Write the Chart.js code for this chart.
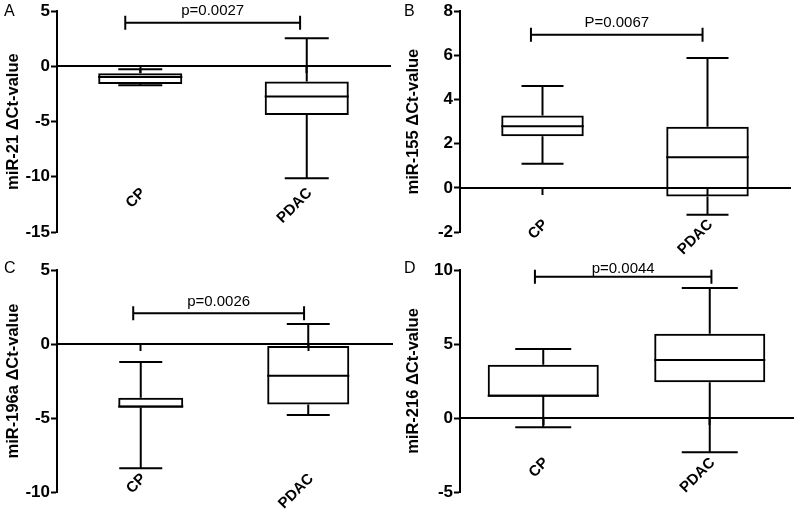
<!DOCTYPE html>
<html>
<head>
<meta charset="utf-8">
<script src="https://cdn.jsdelivr.net/npm/chart.js@4.4.1/dist/chart.umd.min.js"></script>
<style>
  html, body { margin: 0; padding: 0; background: #fff; }
  #wrap { position: relative; width: 800px; height: 515px; }
  .panel { position: absolute; }
</style>
</head>
<body>
<div id="wrap">
  <canvas class="panel" id="pA" width="400" height="257" style="left:0;top:0"></canvas>
  <canvas class="panel" id="pB" width="400" height="257" style="left:400px;top:0"></canvas>
  <canvas class="panel" id="pC" width="400" height="258" style="left:0;top:257px"></canvas>
  <canvas class="panel" id="pD" width="400" height="258" style="left:400px;top:257px"></canvas>
</div>
<script>
const groups = ['CP', 'PDAC'];

// A: miR-21 (min, q1, median, q3, max per group)
const mir21Min = [-1.7, -10.13];
const mir21Q1 = [-1.6, -4.4];
const mir21Median = [-0.95, -2.72];
const mir21Q3 = [-0.61, -1.37];
const mir21Max = [-0.25, 2.54];

// B: miR-155
const mir155Min = [1.09, -1.22];
const mir155Q1 = [2.34, -0.39];
const mir155Median = [2.79, 1.38];
const mir155Q3 = [3.28, 2.77];
const mir155Max = [4.61, 5.88];

// C: miR-196a
const mir196aMin = [-8.4, -4.8];
const mir196aQ1 = [-4.3, -4.08];
const mir196aMedian = [-4.22, -2.14];
const mir196aQ3 = [-3.63, -0.14];
const mir196aMax = [-1.22, 1.35];

// D: miR-216
const mir216Min = [-0.63, -2.32];
const mir216Q1 = [1.44, 2.41];
const mir216Median = [1.5, 3.92];
const mir216Q3 = [3.6, 5.7];
const mir216Max = [4.66, 8.78];

// y axis ticks
const ticksA = [-15, -10, -5, 0, 5];
const ticksB = [-2, 0, 2, 4, 6, 8];
const ticksC = [-10, -5, 0, 5];
const ticksD = [-5, 0, 5, 10];

// significance brackets: label, height, from/to (category index)
const pLabels = ['p=0.0027', 'P=0.0067', 'p=0.0026', 'p=0.0044'];
const pHeights = [3.95, 6.93, 2.07, 9.55];
const pFrom = [-0.09, -0.07, -0.045, -0.05];
const pTo = [0.96, 0.97, 0.975, 1.01];

const FONT = "'Liberation Sans', Arial, Helvetica, sans-serif";

// whiskers, medians, bracket and panel letter
const boxParts = {
  id: 'boxParts',
  afterDatasetsUpdate(chart, args, opts) {
    // the CP box in panel C is narrower and sits off its whiskers
    if (!opts.boxShift) return;
    chart.getDatasetMeta(0).data.forEach((bar, i) => {
      bar.x += opts.boxShift[i] || 0;
      if (opts.boxWidth && opts.boxWidth[i]) bar.width = opts.boxWidth[i];
    });
  },
  afterDatasetsDraw(chart, args, opts) {
    const { ctx } = chart;
    const x = chart.scales.x, y = chart.scales.y;
    const bars = chart.getDatasetMeta(0).data;
    ctx.save();
    ctx.strokeStyle = '#000';
    ctx.lineWidth = 2;
    bars.forEach((bar, i) => {
      const cx = x.getPixelForValue(i);
      const half = bar.width / 2;
      const cap = opts.capHalf;
      const yMin = y.getPixelForValue(opts.min[i]);
      const yQ1 = y.getPixelForValue(opts.q1[i]);
      const yMed = y.getPixelForValue(opts.median[i]);
      const yQ3 = y.getPixelForValue(opts.q3[i]);
      const yMax = y.getPixelForValue(opts.max[i]);
      ctx.beginPath();
      ctx.moveTo(cx, yQ3); ctx.lineTo(cx, yMax);
      ctx.moveTo(cx - cap, yMax); ctx.lineTo(cx + cap, yMax);
      ctx.moveTo(cx, yQ1); ctx.lineTo(cx, yMin);
      ctx.moveTo(cx - cap, yMin); ctx.lineTo(cx + cap, yMin);
      ctx.moveTo(bar.x - half, yMed); ctx.lineTo(bar.x + half, yMed);
      ctx.stroke();
    });

    // bracket
    const by = y.getPixelForValue(opts.pHeight);
    const bx1 = x.getPixelForValue(opts.pFrom);
    const bx2 = x.getPixelForValue(opts.pTo);
    ctx.beginPath();
    ctx.moveTo(bx1, by); ctx.lineTo(bx2, by);
    ctx.moveTo(bx1, by - 7); ctx.lineTo(bx1, by + 7);
    ctx.moveTo(bx2, by - 7); ctx.lineTo(bx2, by + 7);
    ctx.stroke();
    ctx.fillStyle = '#000';
    ctx.font = '15px ' + FONT;
    ctx.textAlign = 'center';
    ctx.textBaseline = 'bottom';
    ctx.fillText(opts.pLabel, (bx1 + bx2) / 2, by - opts.pGap);

    // panel letter
    ctx.font = '16px ' + FONT;
    ctx.textAlign = 'left';
    ctx.textBaseline = 'top';
    ctx.fillText(opts.letter, 4, 4);
    ctx.restore();
  }
};

function makePanel(id, p) {
  return new Chart(document.getElementById(id), {
    type: 'bar',
    data: {
      labels: groups,
      datasets: [{
        data: groups.map((g, i) => [p.q1[i], p.q3[i]]),
        backgroundColor: 'rgba(0,0,0,0)',
        borderColor: '#000',
        borderWidth: 2,
        borderSkipped: false,
        barPercentage: p.boxFrac,
        categoryPercentage: 1
      }]
    },
    options: {
      responsive: false,
      animation: false,
      devicePixelRatio: 1,
      layout: { padding: p.pad },
      plugins: {
        legend: { display: false },
        tooltip: { enabled: false },
        boxParts: {
          min: p.min, q1: p.q1, median: p.median, q3: p.q3, max: p.max,
          pLabel: p.pLabel, pHeight: p.pHeight, pFrom: p.pFrom, pTo: p.pTo,
          pGap: p.pGap, letter: p.letter, capHalf: p.capHalf,
          boxShift: p.boxShift, boxWidth: p.boxWidth
        }
      },
      scales: {
        x: {
          position: { y: 0 },
          offset: true,
          // labels sit far below the zero line; keep that gap out of the side padding
          afterFit: (axis) => { axis.paddingLeft = 0; axis.paddingRight = 0; },
          border: { display: true, color: '#000', width: 2 },
          grid: { display: true, offset: false, drawOnChartArea: false, drawTicks: true, tickLength: 6, tickWidth: 2, tickColor: '#000' },
          ticks: {
            color: '#000',
            font: { family: FONT, size: 15, weight: 'bold' },
            minRotation: 45, maxRotation: 45,
            autoSkip: false,
            labelOffset: 3,
            padding: p.labelPad
          }
        },
        y: {
          min: p.ticks[0],
          max: p.ticks[p.ticks.length - 1],
          afterBuildTicks: (axis) => { axis.ticks = p.ticks.map(v => ({ value: v })); },
          afterFit: (axis) => { axis.width = p.axisLeft; },
          border: { display: true, color: '#000', width: 2 },
          grid: { display: true, drawOnChartArea: false, drawTicks: true, tickLength: 6, tickWidth: 2, tickColor: '#000' },
          ticks: {
            color: '#000',
            padding: 1,
            font: { family: FONT, size: 17, weight: 'bold' }
          },
          title: {
            display: true,
            text: p.title,
            color: '#000',
            font: { family: FONT, size: 16.5, weight: 'bold' },
            padding: { top: 4, bottom: 0 }
          }
        }
      }
    },
    plugins: [boxParts]
  });
}

makePanel('pA', {
  letter: 'A', title: 'miR-21 \u0394Ct-value', ticks: ticksA,
  min: mir21Min, q1: mir21Q1, median: mir21Median, q3: mir21Q3, max: mir21Max,
  pLabel: pLabels[0], pHeight: pHeights[0], pFrom: pFrom[0], pTo: pTo[0], pGap: 4,
  boxFrac: 0.505, capHalf: 22, axisLeft: 57, labelPad: 112,
  pad: { left: 0, right: 10, top: 10, bottom: 25 }
});
makePanel('pB', {
  letter: 'B', title: 'miR-155 \u0394Ct-value', ticks: ticksB,
  min: mir155Min, q1: mir155Q1, median: mir155Median, q3: mir155Q3, max: mir155Max,
  pLabel: pLabels[1], pHeight: pHeights[1], pFrom: pFrom[1], pTo: pTo[1], pGap: 4,
  boxFrac: 0.5, capHalf: 21, axisLeft: 60, labelPad: 22,
  pad: { left: 0, right: 10, top: 10, bottom: 25 }
});
makePanel('pC', {
  letter: 'C', title: 'miR-196a \u0394Ct-value', ticks: ticksC,
  min: mir196aMin, q1: mir196aQ1, median: mir196aMedian, q3: mir196aQ3, max: mir196aMax,
  pLabel: pLabels[2], pHeight: pHeights[2], pFrom: pFrom[2], pTo: pTo[2], pGap: 4,
  boxFrac: 0.49, capHalf: 21.5, axisLeft: 57, labelPad: 120,
  boxShift: [10, 0], boxWidth: [65, 0],
  pad: { left: 0, right: 8, top: 13, bottom: 23 }
});
makePanel('pD', {
  letter: 'D', title: 'miR-216 \u0394Ct-value', ticks: ticksD,
  min: mir216Min, q1: mir216Q1, median: mir216Median, q3: mir216Q3, max: mir216Max,
  pLabel: pLabels[3], pHeight: pHeights[3], pFrom: pFrom[3], pTo: pTo[3], pGap: 0,
  boxFrac: 0.667, capHalf: 28, axisLeft: 60, labelPad: 30,
  pad: { left: 0, right: 7, top: 13, bottom: 23 }
});
</script>
</body>
</html>
